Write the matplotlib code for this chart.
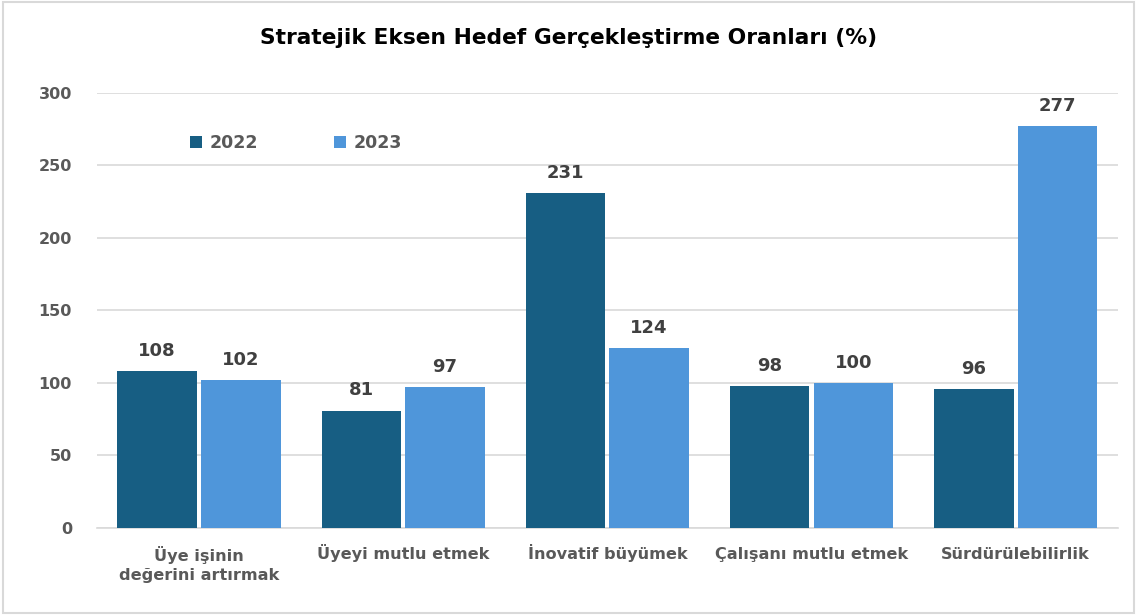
import numpy as np
import matplotlib.pyplot as plt
from matplotlib.transforms import offset_copy

categories = ["Üye işinin\ndeğerini artırmak", "Üyeyi mutlu etmek", "İnovatif büyümek",
              "Çalışanı mutlu etmek", "Sürdürülebilirlik"]
years = ["2022", "2023"]
values_2022 = [108, 81, 231, 98, 96]
values_2023 = [102, 97, 124, 100, 277]
yticks = [0, 50, 100, 150, 200, 250, 300]

plt.rcParams['font.family'] = ['DejaVu Sans']

fig = plt.figure(figsize=(11.37, 6.15), dpi=100)
ax = fig.add_axes([0.0853, 0.1415, 0.8977, 0.7073])

x = np.arange(len(categories))
w = 0.39
b1 = ax.bar(x - 0.205, values_2022, w, color='#175E83', label=years[0], zorder=3)
b2 = ax.bar(x + 0.205, values_2023, w, color='#4F96DA', label=years[1], zorder=3)

for bars in (b1, b2):
    for rect in bars:
        h = rect.get_height()
        ax.annotate(f"{h:.0f}", (rect.get_x() + rect.get_width() / 2, h),
                    xytext=(0, 8), textcoords='offset points', ha='center', va='bottom',
                    fontsize=13, fontweight='bold', color='#404040')

ax.set_xlim(-0.5, len(categories) - 0.5)
ax.set_ylim(0, 300)
ax.set_yticks(yticks)
ax.set_xticks(x)
ax.set_xticklabels([])
ax.set_yticklabels([str(t) for t in yticks], fontsize=11.5, fontweight='bold', color='#595959')
ax.tick_params(length=0, pad=18)

# category labels, first line baselines aligned like the original
for xi, cat in zip(x, categories):
    nlines = cat.count("\n")
    tr = offset_copy(ax.get_xaxis_transform(), fig=fig, x=0, y=-(31 + 21 * nlines) * 0.72,
                     units='points')
    ax.text(xi, 0, cat, transform=tr, ha='center', va='baseline', multialignment='center',
            fontsize=11.6, fontweight='bold', color='#595959', linespacing=1.32)

ax.yaxis.grid(True, color='#D9D9D9', linewidth=1.2, zorder=0)
for s in ['top', 'right', 'left']:
    ax.spines[s].set_visible(False)
ax.spines['bottom'].set_color('#D9D9D9')
ax.spines['bottom'].set_linewidth(1.2)

ax.legend(loc='center left', bbox_to_anchor=(0.076, 0.885), ncol=2, frameon=False,
          prop={'size': 12.5, 'weight': 'bold'}, labelcolor='#595959',
          handlelength=0.7, handleheight=0.7, handletextpad=0.4, columnspacing=4.4)

fig.suptitle("Stratejik Eksen Hedef Gerçekleştirme Oranları (%)", x=0.5, y=0.955,
             fontsize=15.7, fontweight='bold', color='black')

fig.patches.append(plt.Rectangle((0.003, 0.003), 0.994, 0.994, transform=fig.transFigure,
                                 fill=False, edgecolor='#D9D9D9', linewidth=1.5))

fig.savefig('out.png', dpi=100)
